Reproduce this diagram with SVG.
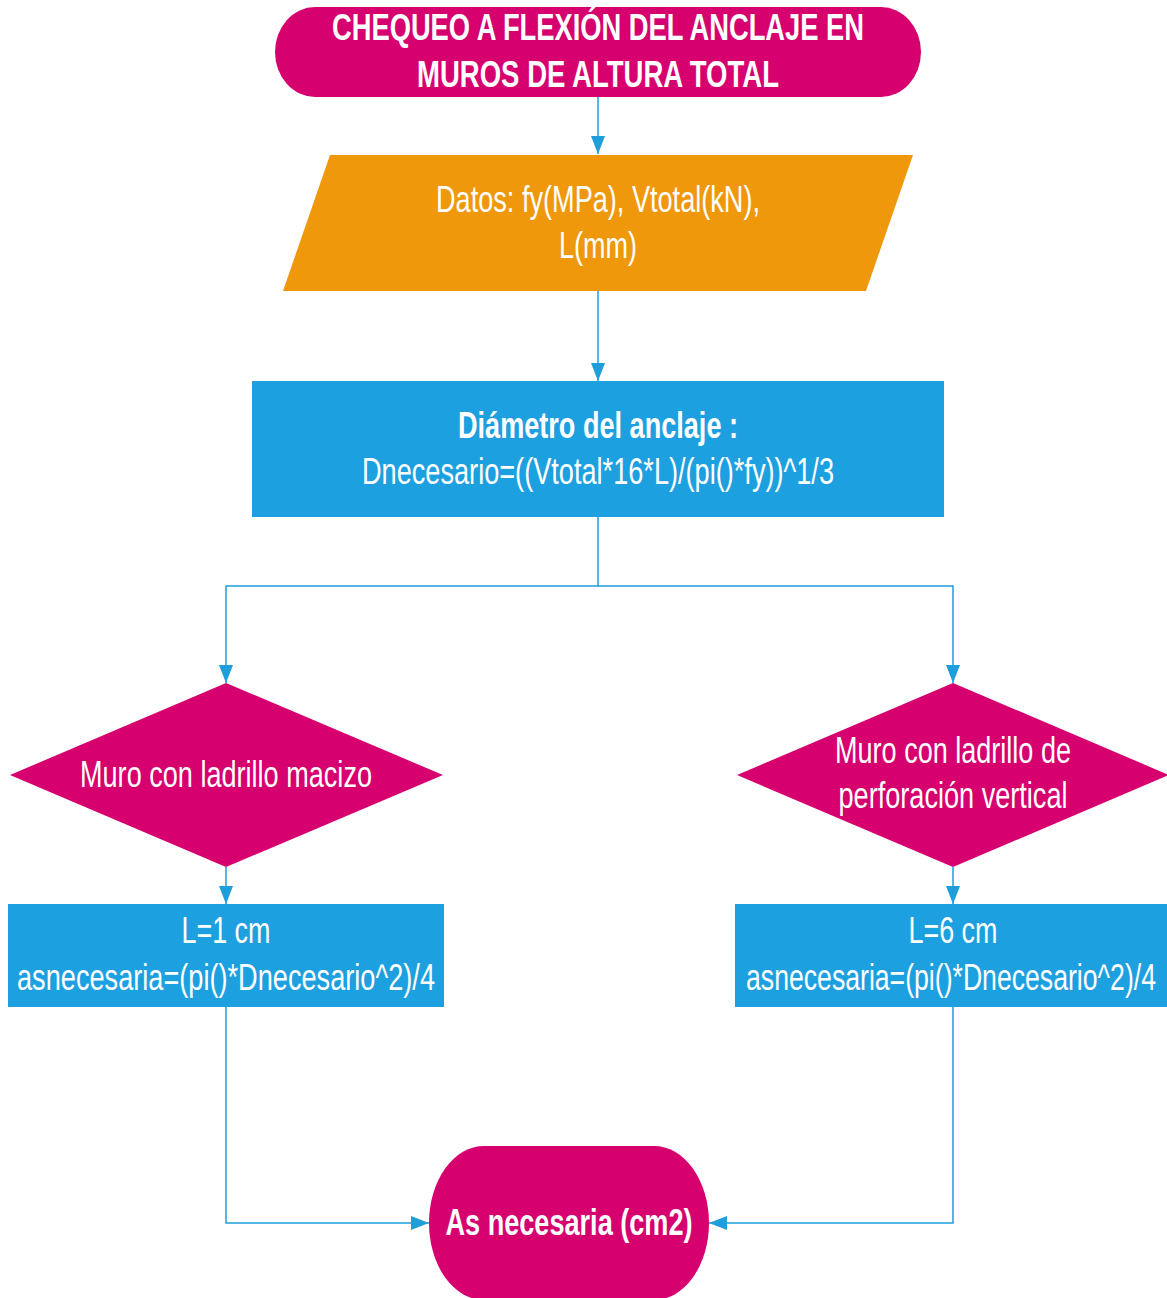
<svg xmlns="http://www.w3.org/2000/svg" width="1167" height="1298" viewBox="0 0 1167 1298">
  <style>
    .pink { fill: #D7006F; }
    .orange { fill: #EF980C; }
    .blue { fill: #1DA0E0; }
    .t { font-family: "Liberation Sans Narrow", "Liberation Sans", Arial, sans-serif; font-size: 36px; fill: #FFFFFF; text-anchor: middle; }
    .b { font-weight: bold; }
    .edge { fill: none; stroke: #1E9FDB; stroke-width: 1.5; marker-end: url(#arrow); }
  </style>
  <defs>
    <marker id="arrow" markerUnits="userSpaceOnUse" markerWidth="18" markerHeight="14" refX="18" refY="7" orient="auto">
      <path d="M0,0 L18,7 L0,14 z" fill="#1E9FDB"/>
    </marker>
  </defs>

  <rect width="1167" height="1298" fill="#FFFFFF"/>

  <!-- connectors -->
  <g id="connectors">
    <path class="edge" d="M598,97 V154"/>
    <path class="edge" d="M598,291 V381"/>
    <path class="edge" d="M598,517 V586 H226 V683"/>
    <path class="edge" d="M598,586 H953 V683"/>
    <path class="edge" d="M226,867 V904"/>
    <path class="edge" d="M953,867 V904"/>
    <path class="edge" d="M226,1007 V1223 H429"/>
    <path class="edge" d="M953,1007 V1223 H709"/>
  </g>

  <!-- start terminator -->
  <g id="start">
    <rect class="pink" x="275" y="7" width="646" height="90" rx="40" ry="45"/>
    <text class="t b" x="598" y="40" textLength="532" lengthAdjust="spacingAndGlyphs">CHEQUEO A FLEXIÓN DEL ANCLAJE EN</text>
    <text class="t b" x="598" y="87" textLength="362" lengthAdjust="spacingAndGlyphs">MUROS DE ALTURA TOTAL</text>
  </g>

  <!-- input data -->
  <g id="datos">
    <polygon class="orange" points="330,155 913,155 866,291 283,291"/>
    <text class="t" x="598" y="212" textLength="324" lengthAdjust="spacingAndGlyphs">Datos: fy(MPa), Vtotal(kN),</text>
    <text class="t" x="598" y="258" textLength="78" lengthAdjust="spacingAndGlyphs">L(mm)</text>
  </g>

  <!-- anchor diameter -->
  <g id="diametro">
    <rect class="blue" x="252" y="381" width="692" height="136"/>
    <text class="t b" x="598" y="438" textLength="280" lengthAdjust="spacingAndGlyphs">Diámetro del anclaje :</text>
    <text class="t" x="598" y="484" textLength="472" lengthAdjust="spacingAndGlyphs">Dnecesario=((Vtotal*16*L)/(pi()*fy))^1/3</text>
  </g>

  <!-- solid brick wall -->
  <g id="macizo">
    <polygon class="pink" points="226,683 443,775 226,867 10,775"/>
    <text class="t" x="226" y="787" textLength="292" lengthAdjust="spacingAndGlyphs">Muro con ladrillo macizo</text>
  </g>

  <!-- vertically perforated brick wall -->
  <g id="perforado">
    <polygon class="pink" points="953,683 1169,775 953,867 737,775"/>
    <text class="t" x="953" y="763" textLength="236" lengthAdjust="spacingAndGlyphs">Muro con ladrillo de</text>
    <text class="t" x="953" y="808" textLength="229" lengthAdjust="spacingAndGlyphs">perforación vertical</text>
  </g>

  <!-- required area, solid brick -->
  <g id="area-macizo">
    <rect class="blue" x="8" y="904" width="436" height="103"/>
    <text class="t" x="226" y="943" textLength="89" lengthAdjust="spacingAndGlyphs">L=1 cm</text>
    <text class="t" x="226" y="990" textLength="418" lengthAdjust="spacingAndGlyphs">asnecesaria=(pi()*Dnecesario^2)/4</text>
  </g>

  <!-- required area, perforated brick -->
  <g id="area-perforado">
    <rect class="blue" x="735" y="904" width="432" height="103"/>
    <text class="t" x="953" y="943" textLength="89" lengthAdjust="spacingAndGlyphs">L=6 cm</text>
    <text class="t" x="951" y="990" textLength="410" lengthAdjust="spacingAndGlyphs">asnecesaria=(pi()*Dnecesario^2)/4</text>
  </g>

  <!-- end terminator -->
  <g id="fin">
    <rect class="pink" x="429" y="1146" width="280" height="154" rx="55" ry="77"/>
    <text class="t b" x="569" y="1235" textLength="247" lengthAdjust="spacingAndGlyphs">As necesaria (cm2)</text>
  </g>
</svg>
